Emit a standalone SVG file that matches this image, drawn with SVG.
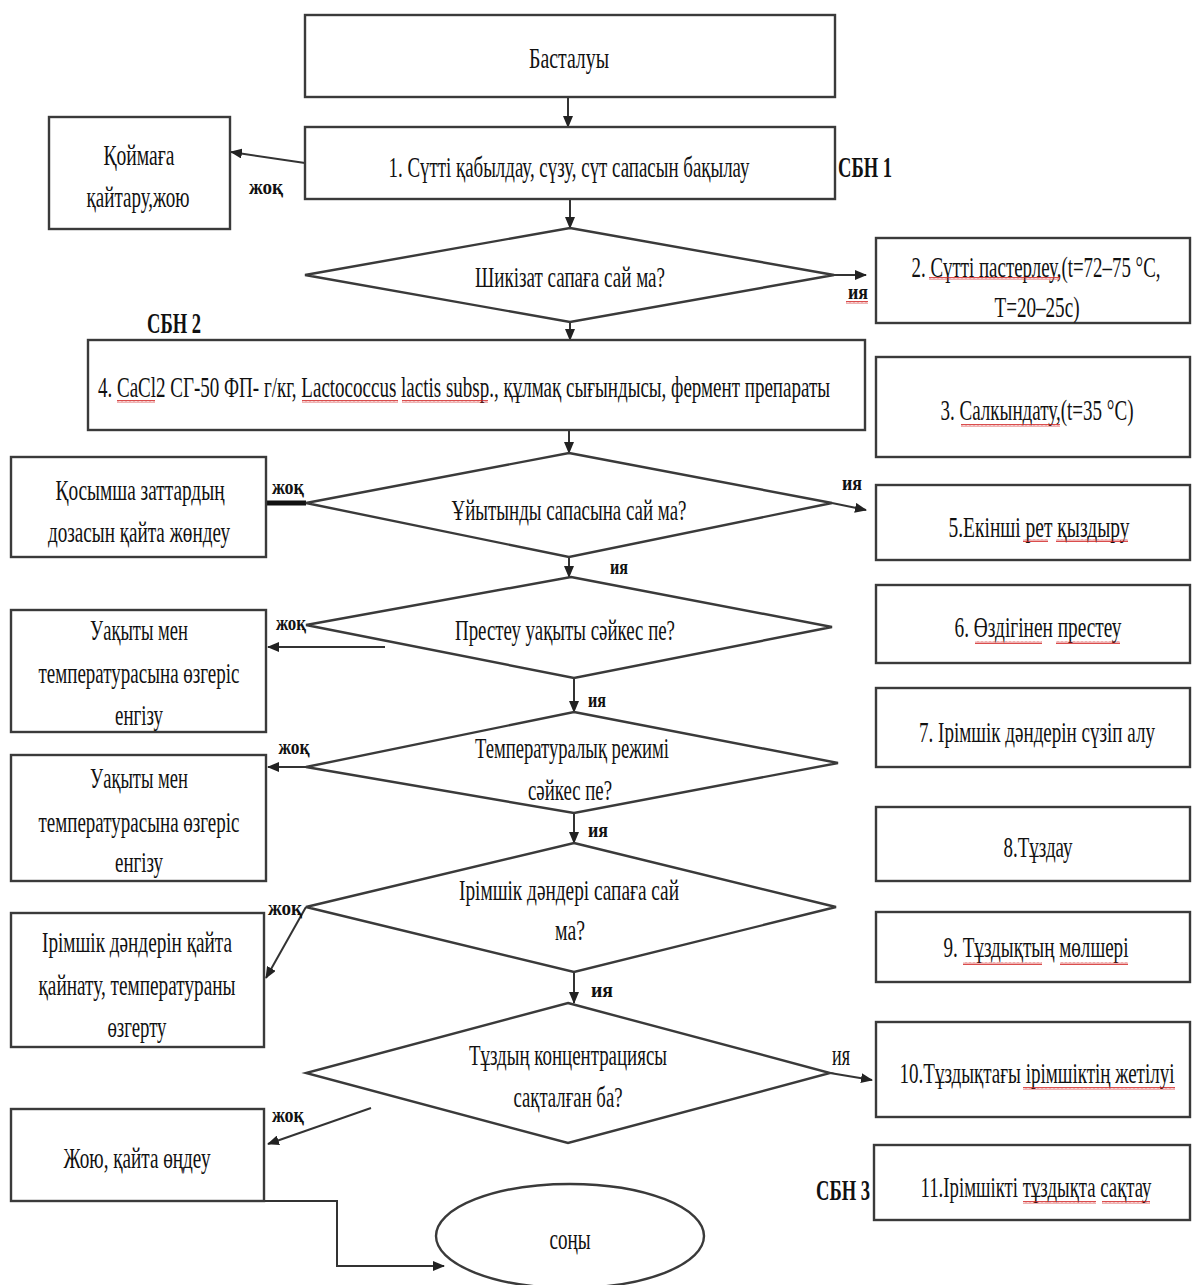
<svg xmlns="http://www.w3.org/2000/svg" width="1192" height="1285" viewBox="0 0 1192 1285">
<style>
.b{fill:#fff;stroke:#3a3a3a;stroke-width:2.4}
.t{font-family:"Liberation Serif","Times New Roman",serif;font-size:30px;fill:#111;text-anchor:middle}
.l{font-family:"Liberation Serif","Times New Roman",serif;font-size:22px;font-weight:bold;fill:#111;text-anchor:middle}
.s{font-family:"Liberation Serif","Times New Roman",serif;font-size:29px;font-weight:bold;fill:#111;text-anchor:middle}
.c{fill:none;stroke:#333;stroke-width:2;marker-end:url(#ah)}
.w{fill:url(#wave);stroke:none}
</style>
<defs>
<marker id="ah" markerUnits="userSpaceOnUse" markerWidth="12" markerHeight="10" refX="11" refY="5" orient="auto">
<path d="M0,0 L12,5 L0,10 Z" fill="#222"/>
</marker>
<pattern id="wave" patternUnits="userSpaceOnUse" width="4" height="3">
<path d="M0,2.5 L1,0.5 L2,2.5 L3,0.5 L4,2.5" fill="none" stroke="#d02020" stroke-width="0.8"/>
</pattern>
</defs>

<g id="connectors">
<path class="c" d="M568,97 L568,127"/>
<path class="c" d="M305,163 L231,152"/>
<path class="c" d="M570,199 L570,228"/>
<path class="c" d="M834,275 L866,275"/>
<path class="c" d="M570,322 L570,340"/>
<path class="c" d="M569,430 L569,453"/>
<path d="M266,503 L306,503" stroke="#111" stroke-width="5" fill="none"/>
<path class="c" d="M832,503 L866,510"/>
<path class="c" d="M569,557 L569,577"/>
<path class="c" d="M385,647 L268,647"/>
<path class="c" d="M574,678 L574,712"/>
<path class="c" d="M352,767 L268,767"/>
<path class="c" d="M574,813 L574,843"/>
<path class="c" d="M306,907 L266,978"/>
<path class="c" d="M574,972 L574,1003"/>
<path class="c" d="M830,1073 L872,1080"/>
<path class="c" d="M371,1108 L268,1144"/>
<path class="c" d="M264,1201 L337,1201 L337,1266 L444,1266"/>
</g>

<g id="labels">
<text class="l" x="266" y="194" textLength="34" lengthAdjust="spacingAndGlyphs">жоқ</text>
<text class="l" x="858" y="299" textLength="20" lengthAdjust="spacingAndGlyphs">ия</text>
<rect class="w" x="846" y="301" width="22" height="3"/>
<text class="l" x="288" y="494" textLength="32" lengthAdjust="spacingAndGlyphs">жоқ</text>
<text class="l" x="852" y="490" textLength="20" lengthAdjust="spacingAndGlyphs">ия</text>
<text class="l" x="619" y="574" textLength="18" lengthAdjust="spacingAndGlyphs">ия</text>
<text class="l" x="291" y="630" textLength="30" lengthAdjust="spacingAndGlyphs">жоқ</text>
<text class="l" x="597" y="707" textLength="18" lengthAdjust="spacingAndGlyphs">ия</text>
<text class="l" x="294" y="754" textLength="31" lengthAdjust="spacingAndGlyphs">жоқ</text>
<text class="l" x="598" y="837" textLength="20" lengthAdjust="spacingAndGlyphs">ия</text>
<text class="l" x="285" y="915" textLength="34" lengthAdjust="spacingAndGlyphs">жоқ</text>
<text class="l" x="602" y="997" textLength="22" lengthAdjust="spacingAndGlyphs">ия</text>
<text class="t" x="841" y="1065" font-size="22" textLength="18" lengthAdjust="spacingAndGlyphs">ия</text>
<text class="l" x="288" y="1122" textLength="32" lengthAdjust="spacingAndGlyphs">жоқ</text>
<text class="s" x="865" y="177" textLength="54" lengthAdjust="spacingAndGlyphs">СБН 1</text>
<text class="s" x="174" y="333" textLength="54" lengthAdjust="spacingAndGlyphs">СБН 2</text>
<text class="s" x="843" y="1200" textLength="54" lengthAdjust="spacingAndGlyphs">СБН 3</text>
</g>

<g id="start">
<rect class="b" x="305" y="15" width="530" height="82"/>
<text class="t" x="569" y="68" textLength="80" lengthAdjust="spacingAndGlyphs">Басталуы</text>
</g>

<g id="step1">
<rect class="b" x="305" y="127" width="530" height="72"/>
<text class="t" x="569" y="177" textLength="361" lengthAdjust="spacingAndGlyphs">1. Сүтті қабылдау, сүзу, сүт сапасын бақылау</text>
</g>

<g id="return">
<rect class="b" x="49" y="117" width="181" height="112"/>
<text class="t" x="139" y="165" textLength="71" lengthAdjust="spacingAndGlyphs">Қоймаға</text>
<text class="t" x="138" y="207" textLength="103" lengthAdjust="spacingAndGlyphs">қайтару,жою</text>
</g>

<g id="decision1">
<polygon class="b" points="570,228 834,275 570,322 305,275"/>
<text class="t" x="570" y="287" textLength="190" lengthAdjust="spacingAndGlyphs">Шикізат сапаға сай ма?</text>
</g>

<g id="step2">
<rect class="b" x="876" y="238" width="314" height="85"/>
<text class="t" x="1036" y="277" textLength="249" lengthAdjust="spacingAndGlyphs">2. Сүтті пастерлеу,(t=72–75 °C,</text>
<text class="t" x="1037" y="317" textLength="85" lengthAdjust="spacingAndGlyphs">T=20–25с)</text>
<rect class="w" x="929" y="277" width="131" height="3"/>
</g>

<g id="step4">
<rect class="b" x="88" y="340" width="777" height="90"/>
<text class="t" x="98" y="397" style="text-anchor:start" textLength="732" lengthAdjust="spacingAndGlyphs">4. CaCl2 СГ-50 ФП- г/кг, Lactococcus lactis subsp., құлмақ сығындысы, фермент препараты</text>
<rect class="w" x="117" y="400" width="38" height="3"/>
<rect class="w" x="302" y="400" width="96" height="3"/>
<rect class="w" x="402" y="400" width="86" height="3"/>
</g>

<g id="step3">
<rect class="b" x="876" y="357" width="314" height="100"/>
<text class="t" x="1037" y="420" textLength="193" lengthAdjust="spacingAndGlyphs">3. Салкындату,(t=35 °C)</text>
<rect class="w" x="961" y="424" width="99" height="3"/>
</g>

<g id="decision2">
<polygon class="b" points="569,453 832,503 569,557 306,503"/>
<text class="t" x="569" y="520" textLength="235" lengthAdjust="spacingAndGlyphs">Ұйытынды сапасына сай ма?</text>
</g>

<g id="dose">
<rect class="b" x="11" y="457" width="255" height="100"/>
<text class="t" x="140" y="500" textLength="169" lengthAdjust="spacingAndGlyphs">Қосымша заттардың</text>
<text class="t" x="139" y="542" textLength="182" lengthAdjust="spacingAndGlyphs">дозасын қайта жөндеу</text>
</g>

<g id="step5">
<rect class="b" x="876" y="485" width="314" height="75"/>
<text class="t" x="1039" y="537" textLength="181" lengthAdjust="spacingAndGlyphs">5.Екінші рет қыздыру</text>
<rect class="w" x="1023" y="539" width="25" height="3"/>
<rect class="w" x="1056" y="539" width="72" height="3"/>
</g>

<g id="decision3">
<polygon class="b" points="571,577 832,627 574,678 306,625"/>
<text class="t" x="565" y="640" textLength="220" lengthAdjust="spacingAndGlyphs">Престеу уақыты сәйкес пе?</text>
</g>

<g id="adjust1">
<rect class="b" x="11" y="610" width="255" height="122"/>
<text class="t" x="139" y="640" textLength="98" lengthAdjust="spacingAndGlyphs">Уақыты мен</text>
<text class="t" x="139" y="683" textLength="201" lengthAdjust="spacingAndGlyphs">температурасына өзгеріс</text>
<text class="t" x="139" y="725" textLength="48" lengthAdjust="spacingAndGlyphs">енгізу</text>
</g>

<g id="step6">
<rect class="b" x="876" y="585" width="314" height="78"/>
<text class="t" x="1038" y="637" textLength="167" lengthAdjust="spacingAndGlyphs">6. Өздігінен престеу</text>
<rect class="w" x="975" y="641" width="67" height="3"/>
<rect class="w" x="1056" y="641" width="64" height="3"/>
</g>

<g id="decision4">
<polygon class="b" points="574,712 838,763 574,813 306,767"/>
<text class="t" x="572" y="758" textLength="194" lengthAdjust="spacingAndGlyphs">Температуралық режимі</text>
<text class="t" x="570" y="800" textLength="84" lengthAdjust="spacingAndGlyphs">сәйкес пе?</text>
</g>

<g id="adjust2">
<rect class="b" x="11" y="755" width="255" height="126"/>
<text class="t" x="139" y="788" textLength="98" lengthAdjust="spacingAndGlyphs">Уақыты мен</text>
<text class="t" x="139" y="832" textLength="201" lengthAdjust="spacingAndGlyphs">температурасына өзгеріс</text>
<text class="t" x="139" y="872" textLength="48" lengthAdjust="spacingAndGlyphs">енгізу</text>
</g>

<g id="step7">
<rect class="b" x="876" y="688" width="314" height="79"/>
<text class="t" x="1037" y="742" textLength="236" lengthAdjust="spacingAndGlyphs">7. Ірімшік дәндерін сүзіп алу</text>
</g>

<g id="decision5">
<polygon class="b" points="574,843 836,907 574,972 306,907"/>
<text class="t" x="569" y="900" textLength="220" lengthAdjust="spacingAndGlyphs">Ірімшік дәндері сапаға сай</text>
<text class="t" x="570" y="940" textLength="30" lengthAdjust="spacingAndGlyphs">ма?</text>
</g>

<g id="reboil">
<rect class="b" x="11" y="913" width="253" height="134"/>
<text class="t" x="137" y="952" textLength="190" lengthAdjust="spacingAndGlyphs">Ірімшік дәндерін қайта</text>
<text class="t" x="137" y="995" textLength="197" lengthAdjust="spacingAndGlyphs">қайнату, температураны</text>
<text class="t" x="137" y="1037" textLength="59" lengthAdjust="spacingAndGlyphs">өзгерту</text>
</g>

<g id="step8">
<rect class="b" x="876" y="807" width="314" height="74"/>
<text class="t" x="1038" y="857" textLength="69" lengthAdjust="spacingAndGlyphs">8.Тұздау</text>
</g>

<g id="step9">
<rect class="b" x="876" y="912" width="314" height="70"/>
<text class="t" x="1036" y="957" textLength="185" lengthAdjust="spacingAndGlyphs">9. Тұздықтың мөлшері</text>
<rect class="w" x="963" y="962" width="79" height="3"/>
<rect class="w" x="1060" y="962" width="68" height="3"/>
</g>

<g id="decision6">
<polygon class="b" points="568,1003 830,1073 568,1143 306,1073"/>
<text class="t" x="568" y="1065" textLength="198" lengthAdjust="spacingAndGlyphs">Тұздың концентрациясы</text>
<text class="t" x="568" y="1107" textLength="109" lengthAdjust="spacingAndGlyphs">сақталған ба?</text>
</g>

<g id="step10">
<rect class="b" x="876" y="1022" width="314" height="95"/>
<text class="t" x="1037" y="1083" textLength="275" lengthAdjust="spacingAndGlyphs">10.Тұздықтағы ірімшіктің жетілуі</text>
<rect class="w" x="1023" y="1087" width="152" height="3"/>
</g>

<g id="dispose">
<rect class="b" x="11" y="1109" width="253" height="92"/>
<text class="t" x="137" y="1168" textLength="147" lengthAdjust="spacingAndGlyphs">Жою, қайта өңдеу</text>
</g>

<g id="step11">
<rect class="b" x="874" y="1145" width="316" height="75"/>
<text class="t" x="1036" y="1197" textLength="231" lengthAdjust="spacingAndGlyphs">11.Ірімшікті тұздықта сақтау</text>
<rect class="w" x="1023" y="1201" width="73" height="3"/>
<rect class="w" x="1102" y="1201" width="48" height="3"/>
</g>

<g id="end">
<ellipse class="b" cx="570" cy="1236" rx="134" ry="52"/>
<text class="t" x="570" y="1249" textLength="41" lengthAdjust="spacingAndGlyphs">соңы</text>
</g>
</svg>
